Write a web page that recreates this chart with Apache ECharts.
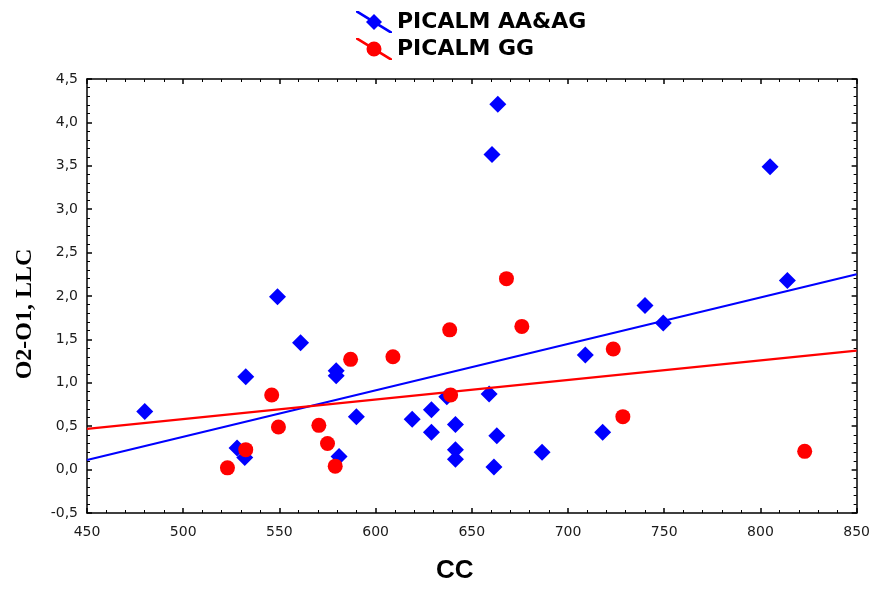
<!DOCTYPE html>
<html>
<head>
    <meta charset="utf-8">
    <title>PICALM</title>
    <script src="https://cdn.jsdelivr.net/npm/echarts@6/dist/echarts.min.js"></script>
</head>
<body style="margin:0;background:#fff;">
<div id="main" style="width:873px;height:589px;"></div>
<script type="text/javascript">
// values: [CC, O2-O1 LLC]
var aaAgPoints = [
    [480, 0.67], [528, 0.25], [532, 0.14], [532.5, 1.07], [549, 1.99],
    [561, 1.46], [579.5, 1.14], [579.5, 1.08], [581, 0.15], [590, 0.61],
    [619, 0.58], [629, 0.69], [629, 0.43], [641.5, 0.52], [641.5, 0.23],
    [641.5, 0.12], [637, 0.84], [659, 0.87], [663, 0.39], [661.5, 0.03],
    [686.5, 0.20], [709, 1.32], [718, 0.43], [740, 1.89], [749.5, 1.69],
    [814, 2.18], [805, 3.49], [663.5, 4.21], [660.5, 3.63]
];
var ggPoints = [
    [523, 0.02], [532.5, 0.23], [546, 0.86], [549.5, 0.49], [570.5, 0.51],
    [575, 0.30], [579, 0.04], [587, 1.27], [609, 1.30], [638.5, 1.61],
    [639, 0.86], [668, 2.20], [676, 1.65], [723.5, 1.39], [728.5, 0.61],
    [823, 0.21]
];
// fitted lines, ends
var aaAgFit = [[450, 0.11], [850, 2.25]];
var ggFit = [[450, 0.47], [850, 1.37]];

var seriesNames = ['PICALM AA&AG', 'PICALM GG'];

var diamondIcon = 'path://M0,0 L2.6,0 L36,20.4 L36,22 L33.4,22 L0,1.6 Z M18,3 L26,11 L18,19 L10,11 Z';
var circleIcon = 'path://M0,0 L2.6,0 L36,20.4 L36,22 L33.4,22 L0,1.6 Z M25.5,11 A7.5,7.5 0 1 1 10.5,11 A7.5,7.5 0 1 1 25.5,11 Z';

var axisLine = {show: true, onZero: false, lineStyle: {color: '#000', width: 1.5}};
var tickStyle = {inside: true, length: 5, lineStyle: {color: '#000', width: 1.5}};
var minorStyle = {show: true, splitNumber: 5, length: 3, lineStyle: {color: '#000'}};
var labelStyle = {fontFamily: 'DejaVu Sans', fontSize: 14, color: '#1a1a1a'};

var myChart = echarts.init(document.getElementById('main'));
var option = {
    animation: false,
    backgroundColor: '#fff',
    grid: {left: 87, right: 16, top: 79, bottom: 74},
    legend: {
        orient: 'vertical',
        left: 356,
        top: 11,
        padding: 0,
        itemWidth: 36,
        itemHeight: 22,
        itemGap: 5,
        textStyle: {fontFamily: 'DejaVu Sans', fontSize: 22, fontWeight: 'bold', color: '#000'},
        data: [
            {name: seriesNames[0], icon: diamondIcon},
            {name: seriesNames[1], icon: circleIcon}
        ]
    },
    xAxis: [{
        type: 'value',
        min: 450, max: 850, interval: 50,
        axisLine: axisLine,
        axisTick: tickStyle,
        minorTick: minorStyle,
        splitLine: {show: false},
        axisLabel: Object.assign({margin: 12}, labelStyle),
        name: 'CC',
        nameLocation: 'middle',
        nameGap: 45,
        nameTextStyle: {fontFamily: 'Liberation Sans', fontSize: 26, fontWeight: 'bold', color: '#000', padding: [0, 34, 0, 0]}
    }, {
        type: 'value',
        position: 'top',
        min: 450, max: 850, interval: 50,
        axisLine: axisLine,
        axisTick: tickStyle,
        minorTick: minorStyle,
        splitLine: {show: false},
        axisLabel: {show: false}
    }],
    yAxis: [{
        type: 'value',
        min: -0.5, max: 4.5, interval: 0.5,
        axisLine: axisLine,
        axisTick: tickStyle,
        minorTick: minorStyle,
        splitLine: {show: false},
        axisLabel: Object.assign({
            margin: 9,
            formatter: function (v) { return v.toFixed(1).replace('.', ','); }
        }, labelStyle),
        name: 'O2-O1, LLC',
        nameLocation: 'middle',
        nameGap: 50,
        nameTextStyle: {fontFamily: 'Liberation Serif', fontSize: 24, fontWeight: 'bold', color: '#000', padding: [0, 36, 0, 0]}
    }, {
        type: 'value',
        position: 'right',
        min: -0.5, max: 4.5, interval: 0.5,
        axisLine: axisLine,
        axisTick: tickStyle,
        minorTick: minorStyle,
        splitLine: {show: false},
        axisLabel: {show: false}
    }],
    series: [
        {
            name: 'fit AA&AG',
            type: 'line',
            data: aaAgFit,
            showSymbol: false,
            lineStyle: {color: '#0000ff', width: 2.2},
            silent: true
        },
        {
            name: 'fit GG',
            type: 'line',
            data: ggFit,
            showSymbol: false,
            lineStyle: {color: '#ff0000', width: 2.2},
            silent: true
        },
        {
            name: seriesNames[0],
            type: 'scatter',
            symbol: 'diamond',
            symbolSize: 17,
            itemStyle: {color: '#0000ff', opacity: 1},
            data: aaAgPoints
        },
        {
            name: seriesNames[1],
            type: 'scatter',
            symbol: 'circle',
            symbolSize: 15,
            itemStyle: {color: '#ff0000', opacity: 1},
            data: ggPoints
        }
    ]
};
myChart.setOption(option);
</script>
</body>
</html>
